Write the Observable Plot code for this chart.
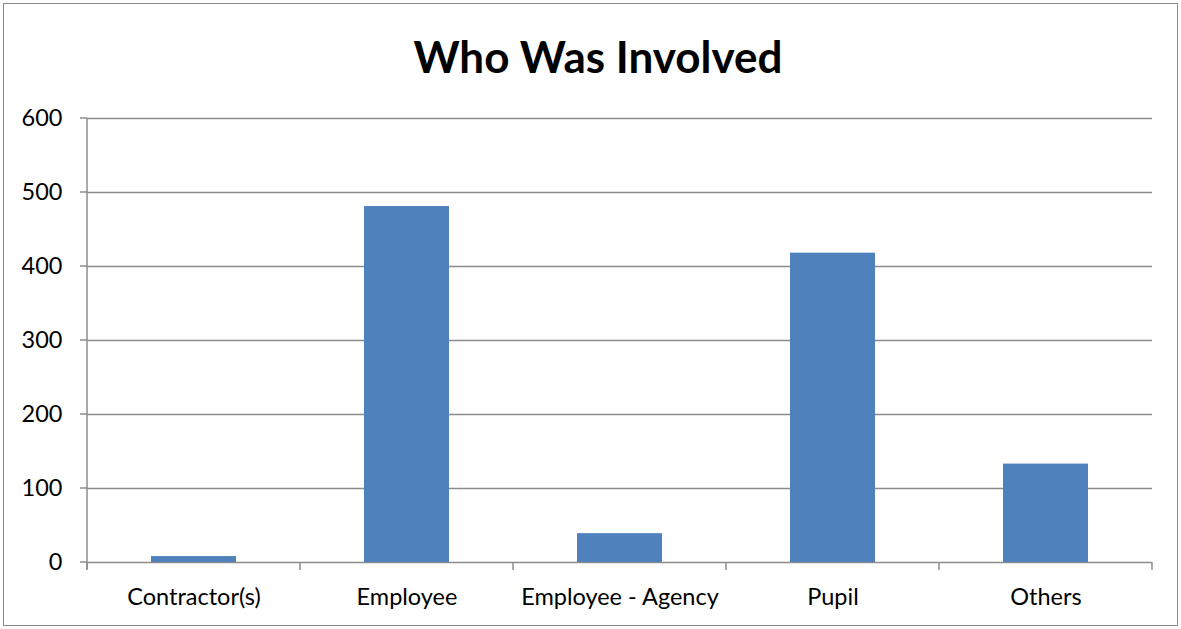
<!DOCTYPE html>
<html>
<head>
<meta charset="utf-8">
<script src="https://cdn.jsdelivr.net/npm/d3@7"></script>
<script src="https://cdn.jsdelivr.net/npm/@observablehq/plot@0.6"></script>
<style>
  html, body { margin: 0; padding: 0; background: #fff; }
  #wrap { position: relative; width: 1181px; height: 629px; overflow: hidden; }
  #frame { position: absolute; left: 3px; top: 3px; width: 1175px; height: 623px; border: 1.5px solid #8a8a8a; box-sizing: border-box; }
  #title { position: absolute; left: 0; width: 1196px; top: 30px; text-align: center; font-family: Lato, "Open Sans", sans-serif; font-weight: bold; font-size: 44px; color: #000; }
  #chart { position: absolute; left: 0; top: 0; }
</style>
</head>
<body>
<div id="wrap">
  <div id="frame"></div>
  <div id="chart"></div>
  <div id="title">Who Was Involved</div>
</div>
<script>
const categories = ["Contractor(s)", "Employee", "Employee - Agency", "Pupil", "Others"];
const values = [8, 481, 39, 418, 133];
const yTicks = [0, 100, 200, 300, 400, 500, 600];

const data = categories.map((c, i) => ({category: c, value: values[i]}));

const plot = Plot.plot({
  width: 1181,
  height: 629,
  marginLeft: 87,
  marginRight: 29,
  marginTop: 118,
  marginBottom: 67,
  style: {fontFamily: "Lato, 'Open Sans', sans-serif", fontSize: "23.5px", color: "#000", background: "transparent"},
  x: {domain: categories, paddingInner: 0.6, paddingOuter: 0.3, label: null},
  y: {domain: [0, 600], ticks: yTicks, label: null},
  marks: [
    Plot.ruleY(yTicks, {stroke: "#8c8c8c", strokeWidth: 1.5}),
    Plot.barY(data, {x: "category", y: "value", fill: "#4F81BD"}),
    Plot.axisY({ticks: yTicks, tickSize: 0, tickPadding: 25, fontSize: 23.5}),
    Plot.axisX({tickSize: 0, tickPadding: 26, fontSize: 23.5})
  ]
});

// axis lines and tick marks drawn from Plot's own scales
const xs = plot.scale("x");
const ys = plot.scale("y");
const svg = d3.select(plot);
const step = xs.step;
const x0 = xs.apply(categories[0]) - (step - xs.bandwidth) / 2;
const g = svg.append("g").attr("stroke", "#8c8c8c").attr("stroke-width", 1.5);
const yBottom = ys.apply(0), yTop = ys.apply(600);
g.append("line").attr("x1", x0).attr("x2", x0).attr("y1", yTop).attr("y2", yBottom + 7);
yTicks.forEach(t => {
  g.append("line").attr("x1", x0 - 7).attr("x2", x0).attr("y1", ys.apply(t)).attr("y2", ys.apply(t));
});
for (let i = 0; i <= categories.length; i++) {
  const xb = x0 + i * step;
  g.append("line").attr("x1", xb).attr("x2", xb).attr("y1", yBottom).attr("y2", yBottom + 8);
}
document.getElementById("chart").appendChild(plot);
</script>
</body>
</html>
